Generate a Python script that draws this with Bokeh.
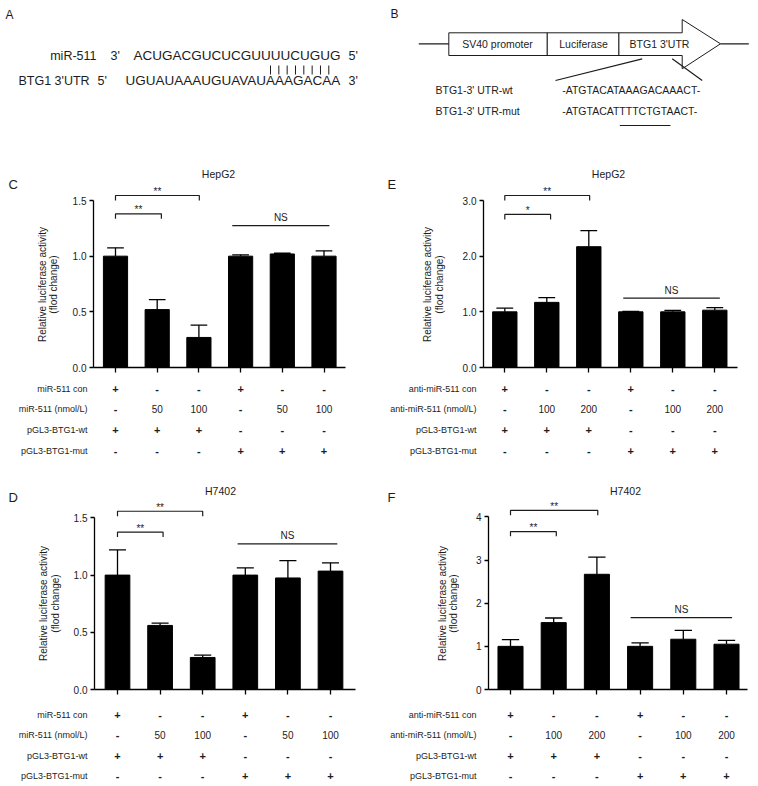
import math
from bokeh.plotting import figure
from bokeh.models import Range1d, FixedTicker, NumeralTickFormatter
from bokeh.layouts import column, row
from bokeh.embed import file_html
from bokeh.resources import INLINE
from bokeh.core.properties import value

FONT = "Liberation Sans"
INK = "#1c1c1c"

# ---------------- data ----------------
conditions = [0, 1, 2, 3, 4, 5]

hepg2_mir_mean = [1.00, 0.52, 0.27, 1.00, 1.02, 1.00]
hepg2_mir_err = [0.075, 0.09, 0.11, 0.012, 0.006, 0.048]
h7402_mir_mean = [1.00, 0.56, 0.28, 1.00, 0.975, 1.035]
h7402_mir_err = [0.22, 0.02, 0.02, 0.063, 0.152, 0.072]
hepg2_anti_mean = [1.00, 1.17, 2.17, 1.00, 1.00, 1.03]
hepg2_anti_err = [0.065, 0.085, 0.29, 0.01, 0.025, 0.045]
h7402_anti_mean = [1.00, 1.55, 2.67, 1.00, 1.165, 1.05]
h7402_anti_err = [0.157, 0.107, 0.40, 0.08, 0.205, 0.09]

mir_row_labels = ["miR-511 con", "miR-511 (nmol/L)", "pGL3-BTG1-wt", "pGL3-BTG1-mut"]
mir_row_values = [["+", "-", "-", "+", "-", "-"],
                  ["-", "50", "100", "-", "50", "100"],
                  ["+", "+", "+", "-", "-", "-"],
                  ["-", "-", "-", "+", "+", "+"]]
anti_row_labels = ["anti-miR-511 con", "anti-miR-511 (nmol/L)", "pGL3-BTG1-wt", "pGL3-BTG1-mut"]
anti_row_values = [["+", "-", "-", "+", "-", "-"],
                   ["-", "100", "200", "-", "100", "200"],
                   ["+", "+", "+", "-", "-", "-"],
                   ["-", "-", "-", "+", "+", "+"]]

# significance brackets: (from bar, to bar, bracket level, leg bottom, mark)
c_sig = [(0, 1.1, 1.38, 1.336, "**"), (0, 2.01, 1.545, 1.5, "**")]
c_ns = (2.8, 5.13, 1.275)
e_sig = [(0, 1.09, 2.75, 2.66, "*"), (0, 2.02, 3.09, 3.0, "**")]
e_ns = (2.82, 5.12, 1.245)
d_sig = [(0, 1.07, 1.375, 1.334, "**"), (0, 2.0, 1.558, 1.515, "**")]
d_ns = (2.82, 5.16, 1.273)
f_sig = [(0, 1.06, 3.66, 3.55, "**"), (0, 2.02, 4.15, 4.04, "**")]
f_ns = (2.78, 5.13, 1.667)

YLABEL_LINES = ["Relative luciferase activity", "(flod change)"]


def base_fig(w, h, xr, yr, left, right, top, bottom):
    p = figure(width=w, height=h, x_range=xr, y_range=yr,
               output_backend="svg", toolbar_location=None,
               min_border_left=left, min_border_right=right,
               min_border_top=top, min_border_bottom=bottom)
    p.grid.visible = False
    p.outline_line_color = None
    return p


def blank(x0, y0, w, h, top=0, bottom=0):
    # page-coordinate canvas; top/bottom borders match neighbouring plots in a row
    p = base_fig(w, h, Range1d(x0, x0 + w), Range1d(y0 + h - bottom, y0 + top), 0, 0, top, bottom)
    p.axis.visible = False
    return p


def make_side(box, top, bottom, letter, letter_xy, label_xs, label_y):
    x0, y0, w, h = box
    p = blank(x0, y0, w, h, top, bottom)
    p.text(x=[letter_xy[0]], y=[letter_xy[1]], text=[letter], text_align="left",
           text_baseline="middle", text_font=value(FONT), text_font_size="13px", text_color=INK)
    p.text(x=label_xs, y=[label_y] * len(label_xs), text=YLABEL_LINES, angle=math.pi / 2,
           text_align="center", text_baseline="middle", text_font=value(FONT),
           text_font_size="10px", text_color=INK)
    return p


def make_chart(fig_box, frame_box, bar0, step, yscale, means, errs, yticks, fmt,
               sig, ns, title, title_xy):
    fx, fy, fw, fh = fig_box
    l, t, r, b = frame_box
    xr = Range1d((l - bar0) / step, (r - bar0) / step)
    yr = Range1d(0, (b - t) * yscale)
    p = base_fig(fw, fh, xr, yr, l - fx, fx + fw - r, t - fy, fy + fh - b)

    def px(xp):
        return (xp - bar0) / step

    def py(yp):
        return (b - yp) * yscale

    p.vbar(x=conditions, top=means, width=0.58, fill_color="black", line_color="black")
    tops = [m + e for m, e in zip(means, errs)]
    p.segment(x0=conditions, y0=means, x1=conditions, y1=tops, line_color="black", line_width=1.3)
    p.segment(x0=[c - 0.2 for c in conditions], y0=tops, x1=[c + 0.2 for c in conditions], y1=tops,
              line_color="black", line_width=1.3)

    xs, ys, mx, my, mt = [], [], [], [], []
    for a, c, lev, leg, mark in sig:
        xs.append([a, a, c, c])
        ys.append([leg, lev, lev, leg])
        mx.append((a + c) / 2)
        my.append(lev)
        mt.append(mark)
    p.multi_line(xs=xs, ys=ys, line_color=INK, line_width=1.2)
    p.text(x=mx, y=my, text=mt, text_align="center", text_baseline="middle", y_offset=-4,
           text_font=value(FONT), text_font_size="10px", text_color=INK)
    p.segment(x0=[ns[0]], y0=[ns[2]], x1=[ns[1]], y1=[ns[2]], line_color=INK, line_width=1.2)
    p.text(x=[(ns[0] + ns[1]) / 2], y=[ns[2]], text=["NS"], text_align="center",
           text_baseline="middle", y_offset=-8, text_font=value(FONT), text_font_size="10px",
           text_color=INK)
    p.text(x=[px(title_xy[0])], y=[py(title_xy[1])], text=[title], text_align="center",
           text_baseline="middle", text_font=value(FONT), text_font_size="10.5px", text_color=INK)

    xa = p.xaxis[0]
    xa.ticker = FixedTicker(ticks=conditions)
    xa.major_label_overrides = {c: "" for c in conditions}
    xa.major_label_text_font_size = "0px"
    xa.major_label_standoff = 0
    xa.major_tick_out = 5
    xa.major_tick_in = 0
    xa.minor_tick_out = 0
    xa.minor_tick_in = 0
    xa.axis_line_color = "black"
    xa.axis_line_width = 1.3
    xa.major_tick_line_color = "black"
    xa.major_tick_line_width = 1.3

    ya = p.yaxis[0]
    ya.ticker = FixedTicker(ticks=yticks)
    ya.formatter = NumeralTickFormatter(format=fmt)
    ya.bounds = (0, yticks[-1])
    ya.axis_line_color = "black"
    ya.axis_line_width = 1.3
    ya.major_tick_line_color = "black"
    ya.major_tick_line_width = 1.3
    ya.major_tick_out = 4
    ya.major_tick_in = 0
    ya.minor_tick_out = 0
    ya.minor_tick_in = 0
    ya.major_label_standoff = 3
    ya.major_label_text_font = FONT
    ya.major_label_text_font_size = "10px"
    ya.major_label_text_color = INK
    return p


def make_table(fig_box, frame_lr, xr, labels, values, row_pages, label_right):
    fx, fy, fw, fh = fig_box
    l, r = frame_lr
    s = (row_pages[-1] - row_pages[0]) / (len(row_pages) - 1)
    yr = Range1d((fy + fh - row_pages[0]) / s, -(row_pages[0] - fy) / s)
    p = base_fig(fw, fh, xr, yr, l - fx, fx + fw - r, 0, 0)
    p.xaxis.visible = False
    ya = p.yaxis[0]
    ya.ticker = FixedTicker(ticks=list(range(len(labels))))
    ya.major_label_overrides = {i: lab for i, lab in enumerate(labels)}
    ya.axis_line_color = None
    ya.major_tick_line_color = None
    ya.minor_tick_line_color = None
    ya.major_tick_out = 0
    ya.major_tick_in = 0
    ya.major_label_standoff = int(round(l - label_right))
    ya.major_label_text_font = FONT
    ya.major_label_text_font_size = "9px"
    ya.major_label_text_color = INK

    sx, sy, st, nx, ny, nt = [], [], [], [], [], []
    for i, rowvals in enumerate(values):
        for c, v in zip(conditions, rowvals):
            if v in ("+", "-"):
                sx.append(c); sy.append(i); st.append(v)
            else:
                nx.append(c); ny.append(i); nt.append(v)
    p.text(x=sx, y=sy, text=st, text_align="center", text_baseline="middle",
           text_font=value(FONT), text_font_size="11px", text_font_style="bold", text_color=INK)
    p.text(x=nx, y=ny, text=nt, text_align="center", text_baseline="middle",
           text_font=value(FONT), text_font_size="10px", text_color=INK)
    return p


# ---------------- panel A ----------------
pa = blank(0, 0, 379, 140)
pa.text(x=[5], y=[14], text=["A"], text_align="left", text_baseline="middle",
        text_font=value(FONT), text_font_size="12px", text_color=INK)
pa.text(x=[96, 110, 18, 97], y=[55, 55, 80, 80],
        text=["miR-511", "3'", "BTG1 3'UTR", "5'"],
        text_align=["right", "left", "left", "left"], text_baseline="middle",
        text_font=value(FONT), text_font_size="12.5px", text_color=INK)
pa.text(x=[133, 125], y=[55, 80],
        text=["ACUGACGUCUCGUUUUCUGUG", "UGUAUAAAUGUAVAUAAAGACAA"],
        text_align="left", text_baseline="middle", text_font=value(FONT),
        text_font_size="13.5px", text_color=INK)
pa.text(x=[348, 348], y=[55, 80], text=["5'", "3'"], text_align="left", text_baseline="middle",
        text_font=value(FONT), text_font_size="12.5px", text_color=INK)
pair_x = [270 + 8.33 * i for i in range(8)]
pa.segment(x0=pair_x, y0=[65] * 8, x1=pair_x, y1=[74] * 8, line_color=INK, line_width=1)

# ---------------- panel B ----------------
pb = blank(379, 0, 379, 140)
pb.text(x=[390], y=[13], text=["B"], text_align="left", text_baseline="middle",
        text_font=value(FONT), text_font_size="12px", text_color=INK)
pb.patch(x=[448.3, 681.7, 681.7, 720, 681.7, 681.7, 448.3],
         y=[32.3, 32.3, 19, 43.3, 68.3, 55, 55],
         fill_color="white", line_color=INK, line_width=1)
pb.segment(x0=[418.3, 720, 546.7, 618.3, 641.7, 671.7],
           y0=[43.3, 43.3, 32.3, 32.3, 58.3, 58.3],
           x1=[448.3, 748.3, 546.7, 618.3, 555, 701.7],
           y1=[43.3, 43.3, 55, 55, 80, 80], line_color=INK, line_width=1.2)
pb.text(x=[497, 583, 659], y=[43.5, 43.5, 43.5],
        text=["SV40 promoter", "Luciferase", "BTG1 3'UTR"], text_align="center",
        text_baseline="middle", text_font=value(FONT), text_font_size="10.5px", text_color=INK)
pb.text(x=[435, 561.7, 435, 561.7], y=[89.3, 89.3, 110.7, 110.7],
        text=["BTG1-3'  UTR-wt", "-ATGTACATAAAGACAAACT-", "BTG1-3'  UTR-mut", "-ATGTACATTTTCTGTAACT-"],
        text_align="left", text_baseline="middle", text_font=value(FONT),
        text_font_size="10.5px", text_color=INK)
pb.segment(x0=[619.3], y0=[125], x1=[670], y1=[125], line_color=INK, line_width=1.2)

# ---------------- charts ----------------
sc = make_side((0, 140, 62, 237), 20, 10, "C", (8, 184), [42, 53], 284)
pc = make_chart((62, 140, 317, 237), (93, 160, 345, 367), 115, 41.7, 1.5 / 167,
                hepg2_mir_mean, hepg2_mir_err, [0, 0.5, 1.0, 1.5], "0.0",
                c_sig, c_ns, "HepG2", (218, 173))
se = make_side((379, 140, 68, 237), 20, 10, "E", (387, 184), [427, 439], 284)
pe = make_chart((447, 140, 311, 237), (483, 160, 737, 367), 504.3, 42, 3 / 167,
                hepg2_anti_mean, hepg2_anti_err, [0, 1, 2, 3], "0.0",
                e_sig, e_ns, "HepG2", (608, 173))
sd = make_side((0, 459, 62, 244), 19, 14, "D", (8, 497), [43, 55], 603)
pd = make_chart((62, 459, 317, 244), (94, 478, 355, 689), 117, 42.6, 1.5 / 171.6,
                h7402_mir_mean, h7402_mir_err, [0, 0.5, 1.0, 1.5], "0.0",
                d_sig, d_ns, "H7402", (220, 490))
sf = make_side((379, 459, 80, 244), 19, 14, "F", (387, 497), [442, 453], 603)
pf = make_chart((459, 459, 299, 244), (488, 478, 747, 689), 510, 43.2, 4 / 172.6,
                h7402_anti_mean, h7402_anti_err, [0, 1, 2, 3, 4], "0",
                f_sig, f_ns, "H7402", (625, 490))

tc = make_table((0, 377, 379, 82), (93, 345), pc.x_range, mir_row_labels, mir_row_values,
                [388, 409, 429, 450], 87)
te = make_table((379, 377, 379, 82), (483, 737), pe.x_range, anti_row_labels, anti_row_values,
                [388, 409, 429, 450], 476)
td = make_table((0, 703, 379, 81), (94, 355), pd.x_range, mir_row_labels, mir_row_values,
                [714, 734.5, 755, 775.5], 87)
tf = make_table((379, 703, 379, 81), (488, 747), pf.x_range, anti_row_labels, anti_row_values,
                [714, 734.5, 755, 775.5], 476)

layout = column(row(pa, pb), row(sc, pc, se, pe), row(tc, te), row(sd, pd, sf, pf), row(td, tf))
open("out.html", "w").write(file_html(layout, INLINE))
